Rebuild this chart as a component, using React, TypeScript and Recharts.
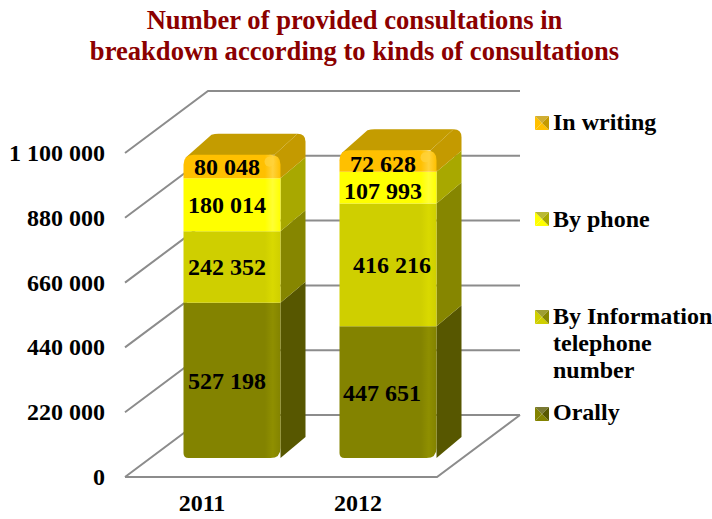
import React from 'react';
import { BarChart, Bar, XAxis, YAxis, CartesianGrid, LabelList, Legend } from 'recharts';

const years = ['2011', '2012'];
const orally = [527198, 447651];
const byInformation = [242352, 416216];
const byPhone = [180014, 107993];
const inWriting = [80048, 72628];
const yTicks = [0, 220000, 440000, 660000, 880000, 1100000];
const titleLines = ['Number of provided consultations in', 'breakdown according to kinds of consultations'];

const data = years.map((year, i) => ({
  year,
  orally: orally[i],
  byInformation: byInformation[i],
  byPhone: byPhone[i],
  inWriting: inWriting[i],
}));

const FONT = '"Liberation Serif", "Times New Roman", serif';
const W = 712, H = 519;
const PLOT = { left: 153.5, right: 465.5, top: 134, bottom: 458 };
const BAR_DX = 25, BAR_DY = 21;
const FRONT = { dx: -28.5, dy: 19 };
const BACK = { dx: 54.5, dy: -43, right: 520 };
const FLOOR_RIGHT = 437;
const GRID = '#8c8c8c';

const fmt = (v: number) => String(v).replace(/\B(?=(\d{3})+(?!\d))/g, ' ');

type Pal = { id: string; front: string; hi: string; lo: string; side: string; top: string };
const palOrally: Pal = { id: 'g0', front: '#838300', hi: '#8f8f00', lo: '#6f6f00', side: '#575700', top: '#6f6f00' };
const palInfo: Pal = { id: 'g1', front: '#cfcf00', hi: '#d9d900', lo: '#b8b800', side: '#868600', top: '#a8a800' };
const palPhone: Pal = { id: 'g2', front: '#ffff00', hi: '#ffff33', lo: '#e6e600', side: '#a8a800', top: '#c8c800' };
const palWriting: Pal = { id: 'g3', front: '#ffc000', hi: '#ffd23a', lo: '#e6ad00', side: '#c49a00', top: '#c49c00' };
const palettes = [palOrally, palInfo, palPhone, palWriting];

const Segment = (props: any) => {
  const { x, y, width: w, height: h, pal, roundTop, roundBottom } = props as {
    x: number; y: number; width: number; height: number; pal: Pal; roundTop?: boolean; roundBottom?: boolean;
  };
  const r = 10;
  const rt = roundTop ? r : 0;
  const rb = roundBottom ? r : 0;
  const front = `M${x},${y + rt} Q${x},${y} ${x + rt},${y} L${x + w - rt},${y} Q${x + w},${y} ${x + w},${y + rt} L${x + w},${y + h - rb} Q${x + w},${y + h} ${x + w - rb},${y + h} L${x + rb / 2},${y + h} Q${x},${y + h} ${x},${y + h - rb / 2} Z`;
  const bx = x + w + BAR_DX;
  const by = y - BAR_DY;
  const side = roundTop
    ? `M${x + w - 6},${y} L${bx - 8},${by} Q${bx},${by} ${bx},${by + 8} L${bx},${by + h} L${x + w},${y + h} Z`
    : `M${x + w},${y} L${bx},${by} L${bx},${by + h} L${x + w},${y + h} Z`;
  const top = `M${x + 2},${y + 3} L${x + BAR_DX + 3},${by + 1} Q${x + BAR_DX + 6},${by} ${x + BAR_DX + 10},${by} L${bx - 8},${by} L${x + w - 6},${y} Z`;
  return (
    <g>
      <path d={side} fill={pal.side} />
      {roundTop && <path d={top} fill={pal.top} />}
      <path d={front} fill={`url(#${pal.id})`} />
      {roundTop && <circle cx={x + w - 11} cy={y + 7} r={5} fill={pal.hi} opacity={0.8} />}
    </g>
  );
};

const DataLabel = (props: any) => {
  const { x, y, width: w, height: h, value, index, shiftX, shiftY } = props;
  return (
    <text
      x={x + w / 2 + (shiftX?.[index] ?? -5)}
      y={y + h / 2 + (shiftY?.[index] ?? 1)}
      textAnchor="middle"
      dominantBaseline="central"
      fontFamily={FONT}
      fontWeight="bold"
      fontSize={24}
      fill="#000"
    >
      {fmt(value)}
    </text>
  );
};

const gridLine = (props: any) => {
  const y = props.y1 as number;
  const xL = PLOT.left + FRONT.dx;
  const xB = PLOT.left + BACK.dx;
  const isFloor = Math.abs(y - PLOT.bottom) < 0.5;
  return (
    <g key={`grid-${y}`}>
      <polyline
        points={`${xL},${y + FRONT.dy} ${xB},${y + BACK.dy} ${BACK.right},${y + BACK.dy}`}
        fill="none"
        stroke={GRID}
        strokeWidth={2}
      />
      {isFloor && (
        <polyline
          points={`${xL},${y + FRONT.dy} ${FLOOR_RIGHT},${y + FRONT.dy} ${BACK.right},${y + BACK.dy}`}
          fill="none"
          stroke={GRID}
          strokeWidth={2}
        />
      )}
    </g>
  );
};

const YTick = (props: any) => (
  <text
    x={105}
    y={props.y + FRONT.dy}
    textAnchor="end"
    dominantBaseline="central"
    fontFamily={FONT}
    fontWeight="bold"
    fontSize={24}
    fill="#000"
  >
    {fmt(props.payload.value)}
  </text>
);

const XTick = (props: any) => (
  <text
    x={props.x + FRONT.dx - 1}
    y={503}
    textAnchor="middle"
    dominantBaseline="central"
    fontFamily={FONT}
    fontWeight="bold"
    fontSize={24}
    fill="#000"
  >
    {props.payload.value}
  </text>
);

const Marker = ({ pal }: { pal: Pal }) => (
  <svg width={14} height={14} style={{ position: 'absolute', left: 535, top: 0 }}>
    <polygon points="0,14 14,14 7,7" fill={pal.front} />
    <polygon points="0,0 0,14 7,7" fill={pal.front} />
    <polygon points="14,0 14,14 7,7" fill={pal.side} />
    <polygon points="0,0 14,0 7,7" fill={pal.side} opacity={0.8} />
  </svg>
);

const LEGEND_ROWS = [
  { key: 'inWriting', pal: palWriting, top: 109, markerTop: 7 },
  { key: 'byPhone', pal: palPhone, top: 206, markerTop: 6 },
  { key: 'byInformation', pal: palInfo, top: 303, markerTop: 7 },
  { key: 'orally', pal: palOrally, top: 399, markerTop: 8 },
];

const LegendContent = (props: any) => {
  const payload = (props.payload ?? []) as any[];
  return (
    <div>
      {LEGEND_ROWS.map((row) => {
        const item = payload.find((p) => p.dataKey === row.key);
        return (
          <div key={row.key} style={{ position: 'absolute', left: 0, top: row.top, width: W }}>
            <div style={{ position: 'absolute', left: 0, top: row.markerTop }}>
              <Marker pal={row.pal} />
            </div>
            <div
              style={{
                position: 'absolute',
                left: 553,
                top: 0,
                width: 159,
                whiteSpace: 'pre',
                fontFamily: FONT,
                fontWeight: 'bold',
                fontSize: 24,
                lineHeight: '27px',
                color: '#000',
              }}
            >
              {item?.value}
            </div>
          </div>
        );
      })}
    </div>
  );
};

const seriesDefs = [
  { key: 'orally', name: 'Orally', pal: palOrally, shiftX: [-5, -6], shiftY: [1, 1] },
  { key: 'byInformation', name: 'By Information\ntelephone\nnumber', pal: palInfo, shiftX: [-5, 4], shiftY: [0, 0] },
  { key: 'byPhone', name: 'By phone', pal: palPhone, shiftX: [-5, -5], shiftY: [0, 3] },
  { key: 'inWriting', name: 'In writing', pal: palWriting, shiftX: [-5, -5], shiftY: [0, 3] },
];

export default function App() {
  return (
    <div style={{ position: 'absolute', left: 0, top: 0, width: W, height: H, background: '#fff' }}>
      <BarChart
        width={W}
        height={H}
        data={data}
        barSize={97}
        margin={{ top: PLOT.top, right: W - PLOT.right, bottom: 0, left: 0 }}
      >
        <defs>
          {palettes.map((p) => (
            <linearGradient key={p.id} id={p.id} x1="0" y1="0" x2="1" y2="0">
              <stop offset="0" stopColor={p.front} />
              <stop offset="0.84" stopColor={p.front} />
              <stop offset="0.92" stopColor={p.hi} />
              <stop offset="1" stopColor={p.front} />
            </linearGradient>
          ))}
        </defs>
        <CartesianGrid horizontal={gridLine} vertical={false} syncWithTicks />
        <XAxis
          dataKey="year"
          height={H - PLOT.bottom}
          axisLine={false}
          tickLine={false}
          tick={<XTick />}
          interval={0}
        />
        <YAxis
          width={PLOT.left}
          domain={[0, 1100000]}
          ticks={yTicks}
          axisLine={false}
          tickLine={false}
          tick={<YTick />}
          interval={0}
        />
        <Legend
          content={<LegendContent />}
          wrapperStyle={{ position: 'absolute', left: 0, top: 0, width: 0, height: 0, margin: 0, padding: 0 }}
        />
        {seriesDefs.map((s, i) => (
          <Bar
            key={s.key}
            dataKey={s.key}
            name={s.name}
            stackId="a"
            fill={s.pal.front}
            isAnimationActive={false}
            shape={(p: any) => (
              <Segment {...p} pal={s.pal} roundTop={i === seriesDefs.length - 1} roundBottom={i === 0} />
            )}
          >
            <LabelList dataKey={s.key} content={<DataLabel shiftX={s.shiftX} shiftY={s.shiftY} />} />
          </Bar>
        ))}
      </BarChart>
      <div
        style={{
          position: 'absolute',
          left: 0,
          top: 5,
          width: W - 3,
          textAlign: 'center',
          fontFamily: FONT,
          fontWeight: 'bold',
          fontSize: 26.6,
          lineHeight: '31px',
          color: '#8b0000',
        }}
      >
        {titleLines.map((t) => (
          <div key={t}>{t}</div>
        ))}
      </div>
    </div>
  );
}
